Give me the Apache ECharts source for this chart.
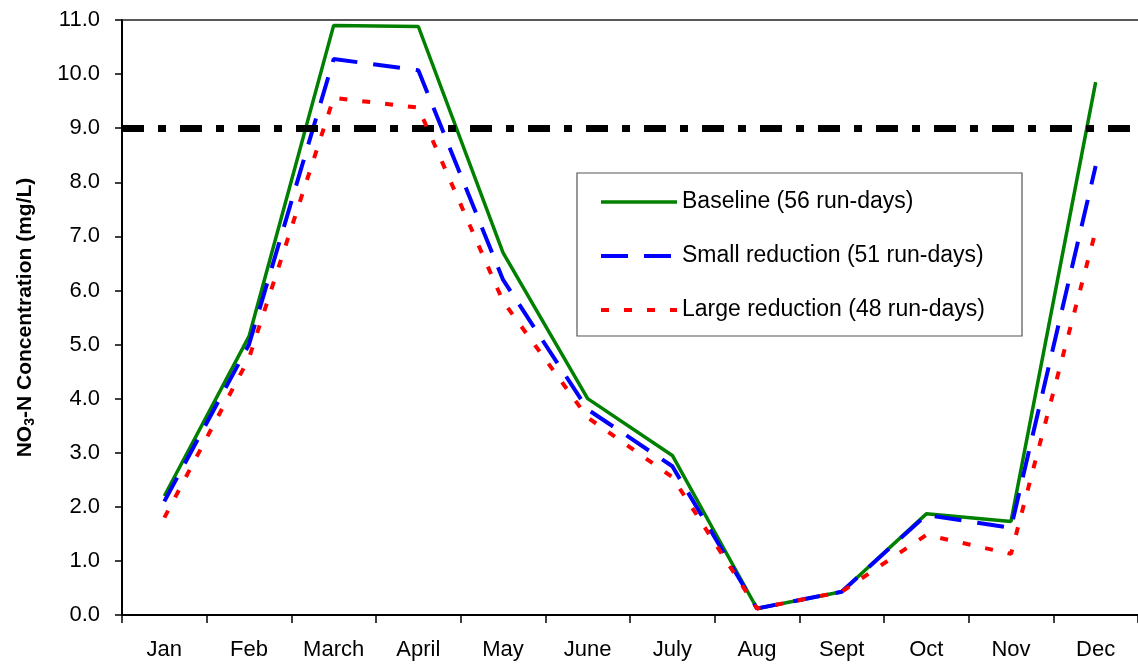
<!DOCTYPE html>
<html><head><meta charset="utf-8">
<script src="https://cdn.jsdelivr.net/npm/echarts@6/dist/echarts.min.js"></script>
<style>html,body{margin:0;padding:0;background:#fff}#c{width:1138px;height:666px}</style>
</head><body><div id="c"></div>
<script>
const months = ['Jan','Feb','March','April','May','June','July','Aug','Sept','Oct','Nov','Dec'];
const baseline = [2.2, 5.15, 10.9, 10.88, 6.7, 4.0, 2.95, 0.12, 0.43, 1.87, 1.73, 9.85];
const smallRed = [2.1, 5.0, 10.28, 10.07, 6.2, 3.8, 2.75, 0.12, 0.43, 1.85, 1.61, 8.3];
const largeRed = [1.8, 4.75, 9.56, 9.38, 5.8, 3.65, 2.55, 0.12, 0.43, 1.48, 1.13, 7.1];
const threshold = 9.0;
const names = ['Baseline (56 run-days)','Small reduction (51 run-days)','Large reduction (48 run-days)'];
const yTicks = [0,1,2,3,4,5,6,7,8,9,10,11];

const F = 'Liberation Sans, Arial, sans-serif';
const chart = echarts.init(document.getElementById('c'));
chart.setOption({
  animation: false,
  grid: {left: 122, right: 0, top: 20, bottom: 51},
  legend: {
    orient: 'vertical', left: 577, top: 173,
    data: [
      {name: names[0], lineStyle: {width: 3.5}},
      {name: names[1], lineStyle: {width: 4}},
      {name: names[2], lineStyle: {width: 4}}
    ],
    itemWidth: 76, itemHeight: 14, itemGap: 30,
    padding: [17, 37, 14, 22],
    borderColor: '#555', borderWidth: 1.2, borderRadius: 0,
    itemStyle: {opacity: 0},
    lineStyle: {width: 4},
    textStyle: {fontFamily: F, fontSize: 23, lineHeight: 24, color: '#000'},
    selectedMode: false
  },
  xAxis: [{
    type: 'category', data: months, boundaryGap: true,
    axisLine: {lineStyle: {color: '#000', width: 2}},
    axisTick: {show: true, interval: 0, length: 8, lineStyle: {color: '#000', width: 1.5}},
    axisLabel: {interval: 0, margin: 24, fontFamily: F, fontSize: 22, color: '#000'}
  }, {
    type: 'category', data: months, position: 'top',
    axisLine: {show: true, lineStyle: {color: '#222', width: 1.5}},
    axisTick: {show: false}, axisLabel: {show: false}
  }],
  yAxis: {
    type: 'value', min: yTicks[0], max: yTicks[yTicks.length-1], interval: 1,
    name: '{a|NO}{s|3}{a|-N Concentration (mg/L)}',
    nameLocation: 'middle', nameGap: 85, nameRotate: 90,
    nameTextStyle: {rich: {
      a: {fontFamily: F, fontSize: 21, fontWeight: 'bold', color: '#000'},
      s: {fontFamily: F, fontSize: 14, fontWeight: 'bold', color: '#000', verticalAlign: 'bottom', padding: [9,0,0,0]}
    }},
    axisLine: {show: true, lineStyle: {color: '#000', width: 2}},
    axisTick: {show: true, length: 7, lineStyle: {color: '#000', width: 1.5}},
    splitLine: {show: false},
    axisLabel: {margin: 22, fontFamily: F, fontSize: 22, color: '#000', formatter: v => v.toFixed(1)}
  },
  series: [
    {name: names[0], type: 'line', data: baseline, symbol: 'none', z: 3,
     itemStyle: {color: '#008000'}, lineStyle: {color: '#008000', width: 3.5},
     markLine: {silent: true, symbol: 'none', label: {show: false},
       lineStyle: {color: '#000', width: 7, type: [22,14,8,14]},
       data: [{yAxis: threshold}]}},
    {name: names[1], type: 'line', data: smallRed, symbol: 'none', z: 4,
     itemStyle: {color: '#0000FF'}, lineStyle: {color: '#0000FF', width: 4, type: [27,16]}},
    {name: names[2], type: 'line', data: largeRed, symbol: 'none', z: 5,
     itemStyle: {color: '#FF0000'}, lineStyle: {color: '#FF0000', width: 4, type: [8,15]}}
  ]
});
</script></body></html>
